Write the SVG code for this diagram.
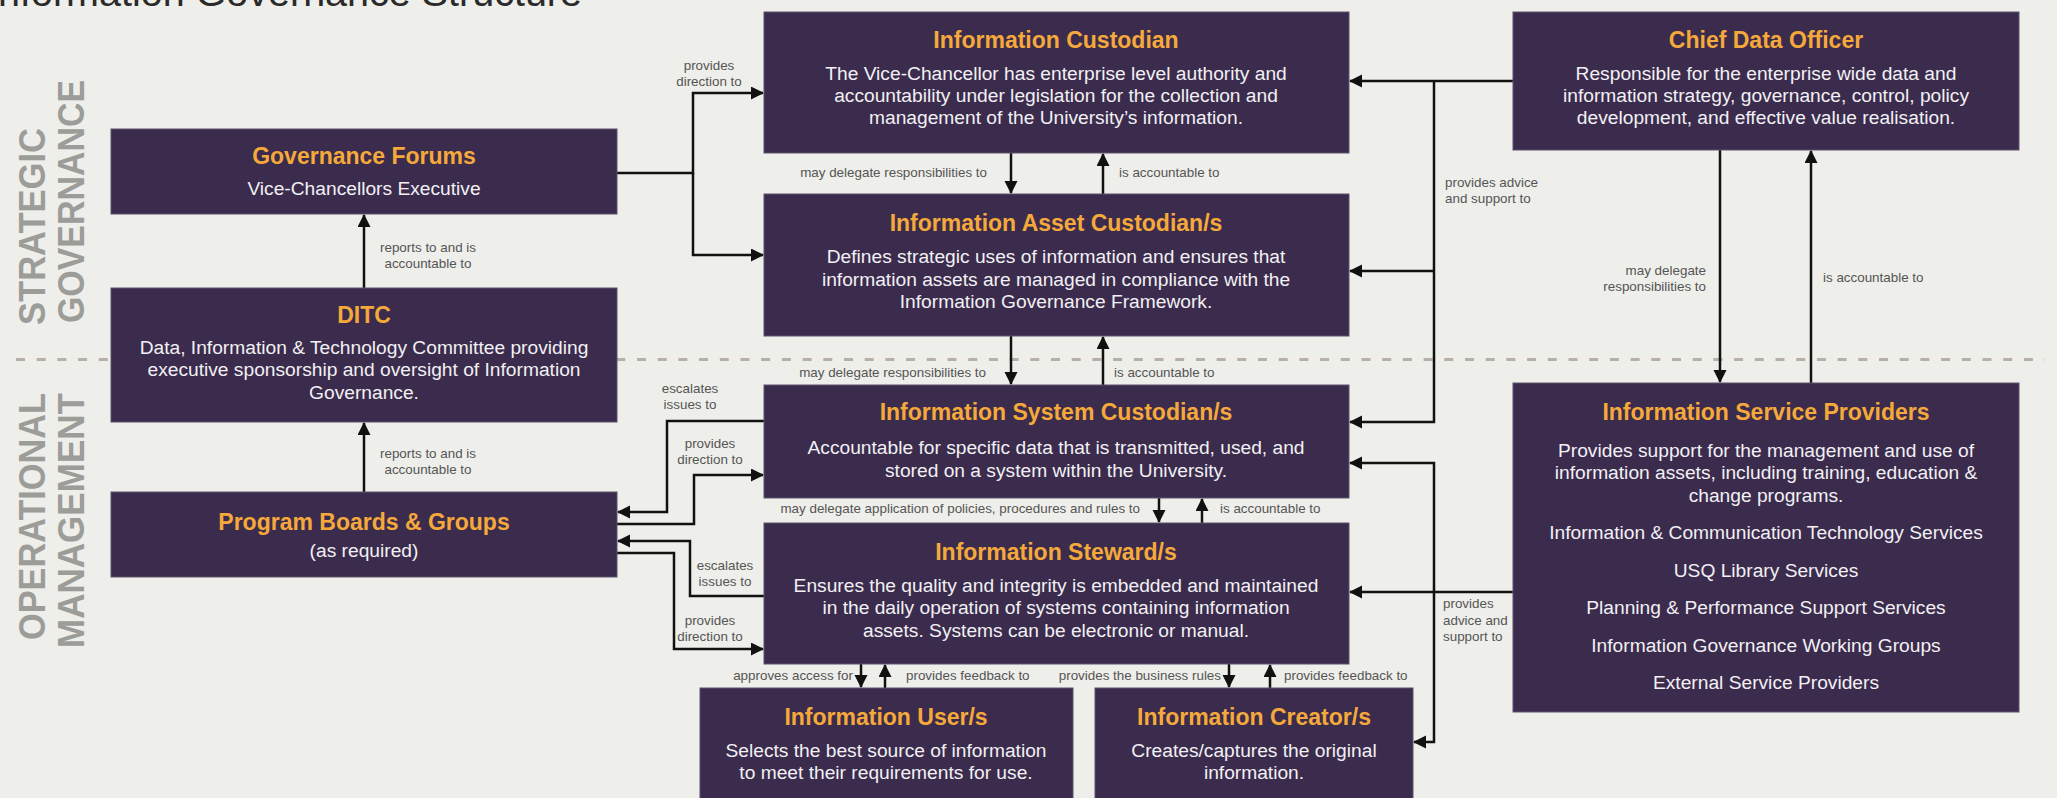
<svg xmlns="http://www.w3.org/2000/svg" width="2057" height="798" viewBox="0 0 2057 798">
<defs>
<marker id="ah" markerUnits="userSpaceOnUse" markerWidth="14" markerHeight="14" refX="12" refY="6.5" orient="auto">
<path d="M0,0 L13,6.5 L0,13 z" fill="#111"/>
</marker>
<style>
.box{fill:#3b2c4d;stroke:#5d526d;stroke-width:1}
.t{font-family:"Liberation Sans",Arial,sans-serif;font-weight:bold;font-size:23px;fill:#f6a93b;text-anchor:middle}
.b{font-family:"Liberation Sans",Arial,sans-serif;font-size:19.2px;fill:#f2f0f4;text-anchor:middle}
.l{font-family:"Liberation Sans",Arial,sans-serif;font-size:13.4px;fill:#555}
.c{text-anchor:middle}
.e{text-anchor:end}
.side{font-family:"Liberation Sans",Arial,sans-serif;font-weight:bold;font-size:37px;fill:#9c9c98}
.ln{fill:none;stroke:#111;stroke-width:2.5;marker-end:url(#ah)}
</style>
</defs>
<rect width="2057" height="798" fill="#eeeeea"/>
<text x="582" y="6" font-family="Liberation Sans,Arial,sans-serif" font-size="39.5" fill="#2a2a2a" text-anchor="end">Information Governance Structure</text>
<line x1="16" y1="359.5" x2="2045" y2="359.5" stroke="#b8afa6" stroke-width="3" stroke-dasharray="9 11.7"/>
<g id="side-labels">
<text class="side" transform="translate(45,325) rotate(-90)" textLength="197" lengthAdjust="spacingAndGlyphs">STRATEGIC</text>
<text class="side" transform="translate(84,323) rotate(-90)" textLength="243" lengthAdjust="spacingAndGlyphs">GOVERNANCE</text>
<text class="side" transform="translate(45,640) rotate(-90)" textLength="247" lengthAdjust="spacingAndGlyphs">OPERATIONAL</text>
<text class="side" transform="translate(84,648) rotate(-90)" textLength="255" lengthAdjust="spacingAndGlyphs">MANAGEMENT</text>
</g>
<g id="connectors">
<path class="ln" d="M364,288 V215"/>
<path class="ln" d="M364,492 V423"/>
<path class="ln" d="M617,173 H693 V93 H763"/>
<path class="ln" d="M693,173 V255 H763"/>
<path class="ln" d="M1011,153 V193"/>
<path class="ln" d="M1103,194 V154"/>
<path class="ln" d="M1011,336 V384"/>
<path class="ln" d="M1103,385 V337"/>
<path class="ln" d="M764,421 H667 V512 H618"/>
<path class="ln" d="M617,524 H694 V475 H763"/>
<path class="ln" d="M764,596 H690 V541 H618"/>
<path class="ln" d="M617,553 H674 V649 H763"/>
<path class="ln" d="M1159,498 V522"/>
<path class="ln" d="M1202,523 V499"/>
<path class="ln" d="M861,664 V687"/>
<path class="ln" d="M885,688 V665"/>
<path class="ln" d="M1229,664 V687"/>
<path class="ln" d="M1270,688 V665"/>
<path class="ln" d="M1513,81 H1350"/>
<path class="ln" d="M1434,81 V422 H1350"/>
<path class="ln" d="M1434,271 H1350"/>
<path class="ln" d="M1513,592 H1350"/>
<path class="ln" d="M1434,592 V463 H1350"/>
<path class="ln" d="M1434,592 V742 H1414"/>
<path class="ln" d="M1720,150 V382"/>
<path class="ln" d="M1811,383 V151"/>
<text class="l c" x="428" y="252">reports to and is</text>
<text class="l c" x="428" y="268">accountable to</text>
<text class="l c" x="428" y="458">reports to and is</text>
<text class="l c" x="428" y="474">accountable to</text>
<text class="l c" x="709" y="70">provides</text>
<text class="l c" x="709" y="86">direction to</text>
<text class="l e" x="987" y="177">may delegate responsibilities to</text>
<text class="l" x="1119" y="177">is accountable to</text>
<text class="l e" x="986" y="377">may delegate responsibilities to</text>
<text class="l" x="1114" y="377">is accountable to</text>
<text class="l c" x="690" y="393">escalates</text>
<text class="l c" x="690" y="409">issues to</text>
<text class="l c" x="710" y="448">provides</text>
<text class="l c" x="710" y="464">direction to</text>
<text class="l e" x="1140" y="513">may delegate application of policies, procedures and rules to</text>
<text class="l" x="1220" y="513">is accountable to</text>
<text class="l c" x="725" y="570">escalates</text>
<text class="l c" x="725" y="586">issues to</text>
<text class="l c" x="710" y="625">provides</text>
<text class="l c" x="710" y="641">direction to</text>
<text class="l e" x="853" y="680">approves access for</text>
<text class="l" x="906" y="680">provides feedback to</text>
<text class="l e" x="1221" y="680">provides the business rules</text>
<text class="l" x="1284" y="680">provides feedback to</text>
<text class="l" x="1445" y="187">provides advice</text>
<text class="l" x="1445" y="203">and support to</text>
<text class="l" x="1443" y="608">provides</text>
<text class="l" x="1443" y="625">advice and</text>
<text class="l" x="1443" y="641">support to</text>
<text class="l e" x="1706" y="275">may delegate</text>
<text class="l e" x="1706" y="291">responsibilities to</text>
<text class="l" x="1823" y="282">is accountable to</text>
</g>
<g id="governance-forums">
<rect class="box" x="111" y="129" width="506" height="85"/>
<text class="t" x="364" y="164">Governance Forums</text>
<text class="b" x="364" y="195">Vice-Chancellors Executive</text>
</g>
<g id="ditc">
<rect class="box" x="111" y="288" width="506" height="134"/>
<text class="t" x="364" y="323">DITC</text>
<text class="b" x="364" y="354">Data, Information &amp; Technology Committee providing</text>
<text class="b" x="364" y="376">executive sponsorship and oversight of Information</text>
<text class="b" x="364" y="399">Governance.</text>
</g>
<g id="program-boards">
<rect class="box" x="111" y="492" width="506" height="85"/>
<text class="t" x="364" y="530">Program Boards &amp; Groups</text>
<text class="b" x="364" y="557">(as required)</text>
</g>
<g id="information-custodian">
<rect class="box" x="764" y="12" width="585" height="141"/>
<text class="t" x="1056" y="48">Information Custodian</text>
<text class="b" x="1056" y="80">The Vice-Chancellor has enterprise level authority and</text>
<text class="b" x="1056" y="102">accountability under legislation for the collection and</text>
<text class="b" x="1056" y="124">management of the University’s information.</text>
</g>
<g id="information-asset-custodian">
<rect class="box" x="764" y="194" width="585" height="142"/>
<text class="t" x="1056" y="231">Information Asset Custodian/s</text>
<text class="b" x="1056" y="263">Defines strategic uses of information and ensures that</text>
<text class="b" x="1056" y="286">information assets are managed in compliance with the</text>
<text class="b" x="1056" y="308">Information Governance Framework.</text>
</g>
<g id="information-system-custodian">
<rect class="box" x="764" y="385" width="585" height="113"/>
<text class="t" x="1056" y="420">Information System Custodian/s</text>
<text class="b" x="1056" y="454">Accountable for specific data that is transmitted, used, and</text>
<text class="b" x="1056" y="477">stored on a system within the University.</text>
</g>
<g id="information-steward">
<rect class="box" x="764" y="523" width="585" height="141"/>
<text class="t" x="1056" y="560">Information Steward/s</text>
<text class="b" x="1056" y="592">Ensures the quality and integrity is embedded and maintained</text>
<text class="b" x="1056" y="614">in the daily operation of systems containing information</text>
<text class="b" x="1056" y="637">assets. Systems can be electronic or manual.</text>
</g>
<g id="information-user">
<rect class="box" x="700" y="688" width="373" height="120"/>
<text class="t" x="886" y="725">Information User/s</text>
<text class="b" x="886" y="757">Selects the best source of information</text>
<text class="b" x="886" y="779">to meet their requirements for use.</text>
</g>
<g id="information-creator">
<rect class="box" x="1095" y="688" width="318" height="120"/>
<text class="t" x="1254" y="725">Information Creator/s</text>
<text class="b" x="1254" y="757">Creates/captures the original</text>
<text class="b" x="1254" y="779">information.</text>
</g>
<g id="chief-data-officer">
<rect class="box" x="1513" y="12" width="506" height="138"/>
<text class="t" x="1766" y="48">Chief Data Officer</text>
<text class="b" x="1766" y="80">Responsible for the enterprise wide data and</text>
<text class="b" x="1766" y="102">information strategy, governance, control, policy</text>
<text class="b" x="1766" y="124">development, and effective value realisation.</text>
</g>
<g id="information-service-providers">
<rect class="box" x="1513" y="383" width="506" height="329"/>
<text class="t" x="1766" y="420">Information Service Providers</text>
<text class="b" x="1766" y="457">Provides support for the management and use of</text>
<text class="b" x="1766" y="479">information assets, including training, education &amp;</text>
<text class="b" x="1766" y="502">change programs.</text>
<text class="b" x="1766" y="539">Information &amp; Communication Technology Services</text>
<text class="b" x="1766" y="577">USQ Library Services</text>
<text class="b" x="1766" y="614">Planning &amp; Performance Support Services</text>
<text class="b" x="1766" y="652">Information Governance Working Groups</text>
<text class="b" x="1766" y="689">External Service Providers</text>
</g>
</svg>
